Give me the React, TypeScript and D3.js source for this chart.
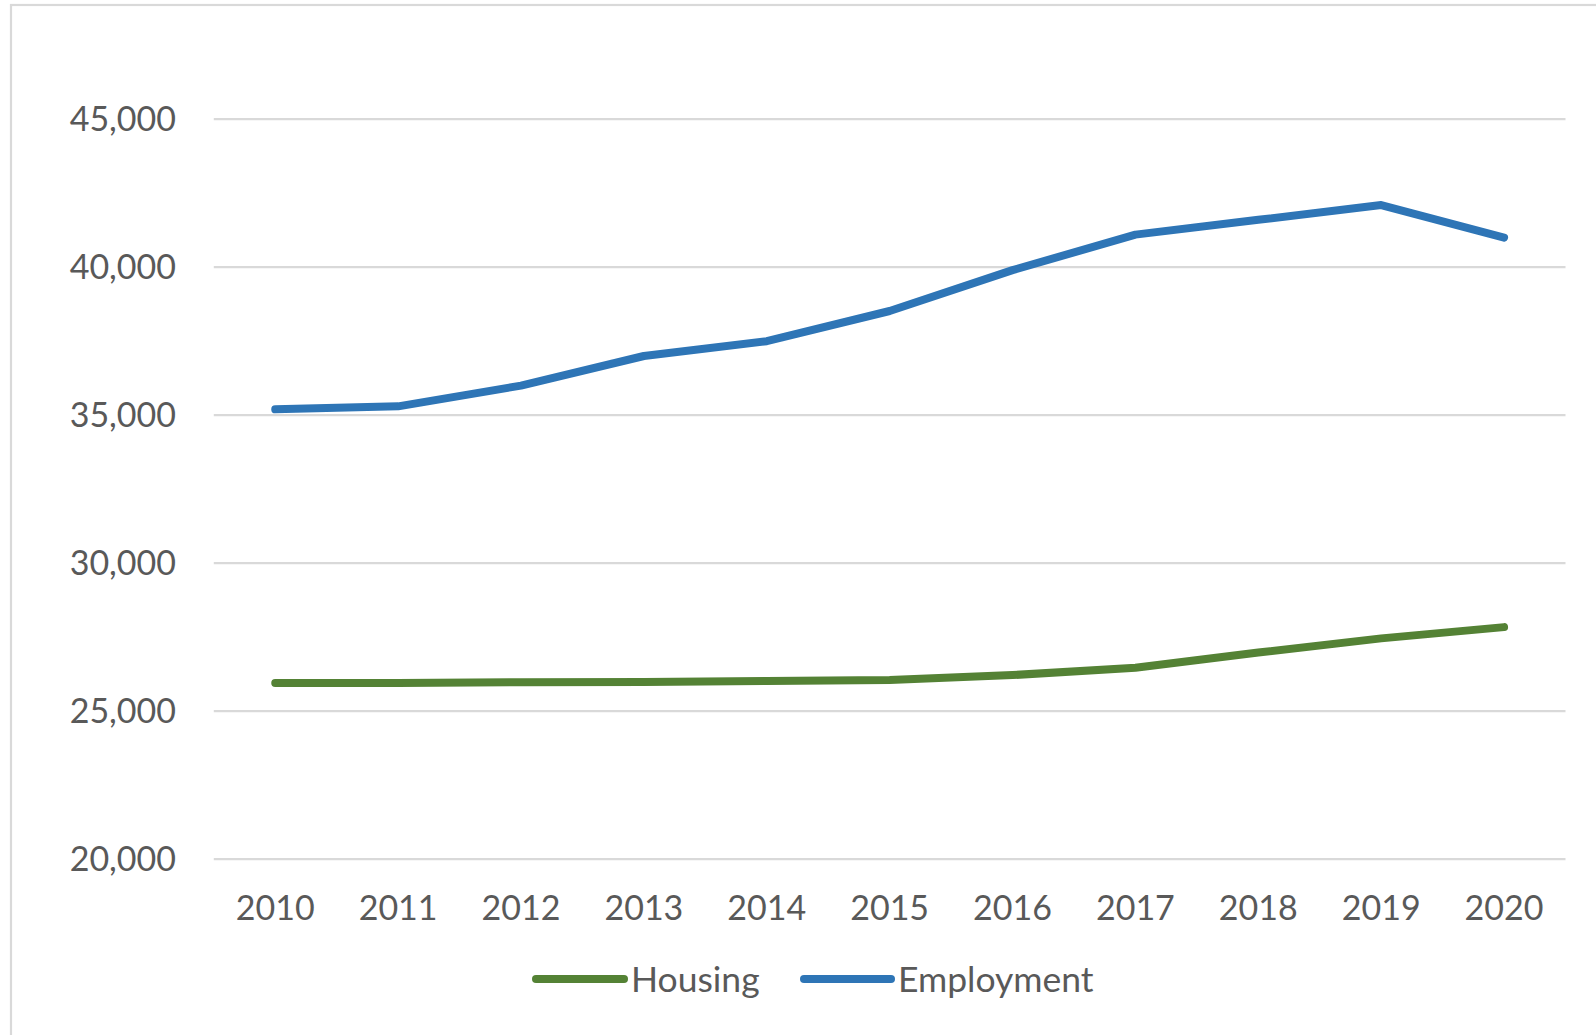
import React from "react";
import * as d3 from "d3";

const years = ["2010","2011","2012","2013","2014","2015","2016","2017","2018","2019","2020"];
const housing = [25950, 25950, 25980, 25990, 26020, 26050, 26220, 26470, 26980, 27460, 27840];
const employment = [35200, 35300, 36000, 37000, 37500, 38520, 39900, 41100, 41600, 42100, 41000];
const yTicks = [20000, 25000, 30000, 35000, 40000, 45000];
const seriesNames = ["Housing", "Employment"];
const seriesColors = ["#548235", "#2E75B6"];

const W = 1596, H = 1035;
const FONT = "Lato, 'Open Sans', sans-serif";
const TEXT = "#595959";

export default function App() {
  const x = d3.scaleBand<string>().domain(years).range([213.8, 1565.5]);
  const y = d3.scaleLinear().domain([20000, 45000]).range([859.2, 119.2]);
  const fmt = d3.format(",");
  const line = d3.line<number>()
    .x((_, i) => (x(years[i]) as number) + x.bandwidth() / 2)
    .y((d) => y(d))
    .curve(d3.curveLinear);
  const series = [housing, employment];
  const legendX = [[536, 624, 631], [804, 891, 898]];
  return (
    <svg width={W} height={H} style={{ position: "absolute", left: 0, top: 0, background: "#fff" }}>
      <rect x={0} y={0} width={W} height={H} fill="#fff" />
      <rect x={11} y={5} width={W + 50} height={H + 50} fill="none" stroke="#d9d9d9" strokeWidth={2.2} />
      {yTicks.map((t) => (
        <g key={t}>
          <line x1={213.8} x2={1565.5} y1={y(t)} y2={y(t)} stroke="#d9d9d9" strokeWidth={2.2} />
          <text x={176} y={y(t)} dy="0.36em" textAnchor="end" fontFamily={FONT} fontSize={34} fill={TEXT}>
            {fmt(t)}
          </text>
        </g>
      ))}
      {years.map((yr) => (
        <text key={yr} x={(x(yr) as number) + x.bandwidth() / 2} y={920} textAnchor="middle" fontFamily={FONT} fontSize={34} fill={TEXT}>
          {yr}
        </text>
      ))}
      {series.map((s, i) => (
        <path key={i} d={line(s) || ""} fill="none" stroke={seriesColors[i]} strokeWidth={8} strokeLinecap="round" strokeLinejoin="round" />
      ))}
      {seriesNames.map((n, i) => (
        <g key={n}>
          <line x1={legendX[i][0]} x2={legendX[i][1]} y1={979} y2={979} stroke={seriesColors[i]} strokeWidth={8} strokeLinecap="round" />
          <text x={legendX[i][2]} y={979} dy="0.36em" fontFamily={FONT} fontSize={35.5} fill={TEXT}>{n}</text>
        </g>
      ))}
    </svg>
  );
}
